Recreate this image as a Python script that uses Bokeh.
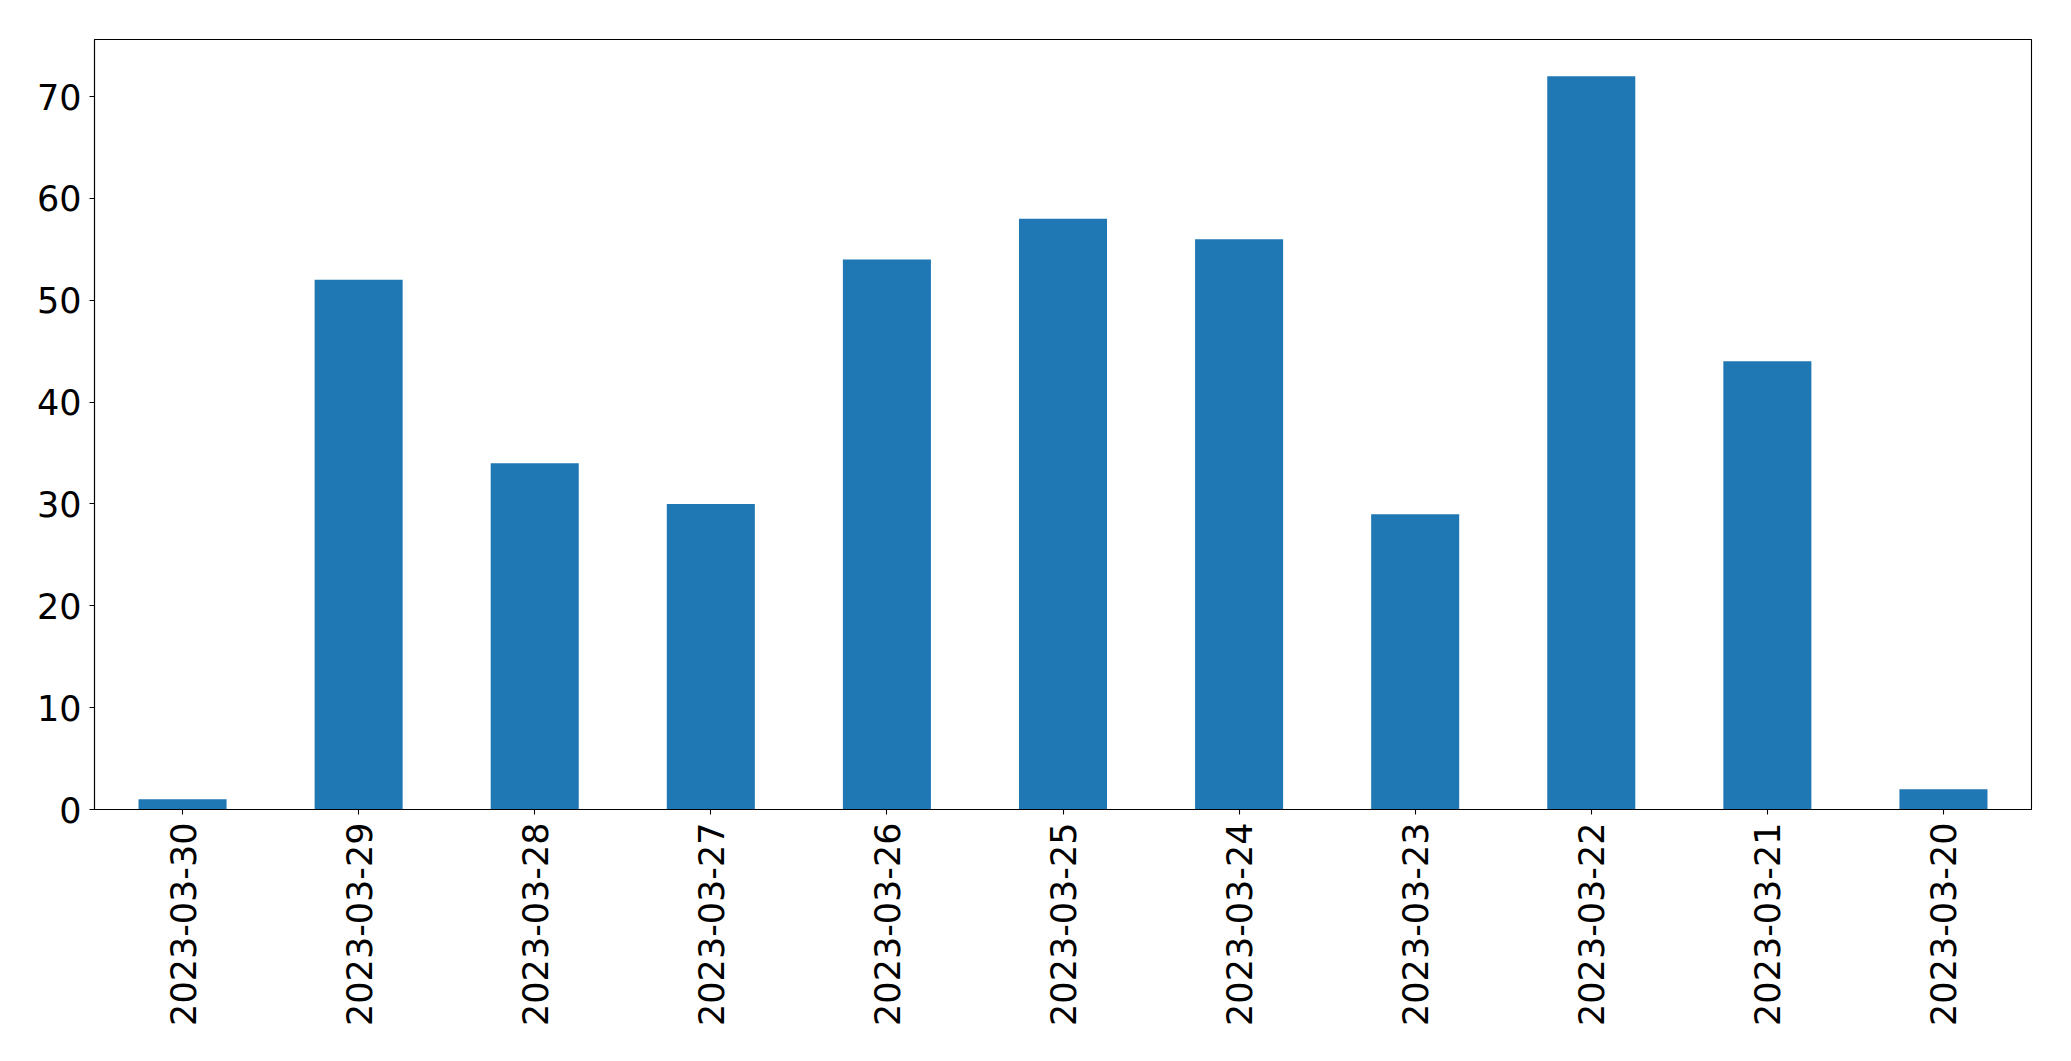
import math
from bokeh.plotting import figure
from bokeh.models import FixedTicker, Range1d, FactorRange
from bokeh.embed import file_html
from bokeh.resources import INLINE

dates = ["2023-03-30", "2023-03-29", "2023-03-28", "2023-03-27", "2023-03-26",
         "2023-03-25", "2023-03-24", "2023-03-23", "2023-03-22", "2023-03-21",
         "2023-03-20"]
counts = [1, 52, 34, 30, 54, 58, 56, 29, 72, 44, 2]
y_ticks = [0, 10, 20, 30, 40, 50, 60, 70]

p = figure(width=2071, height=1061, output_backend="svg", toolbar_location=None,
           x_range=FactorRange(factors=dates, range_padding=0),
           y_range=Range1d(0, max(counts) * 1.05))
p.min_border_left = 94
p.min_border_right = 40
p.min_border_top = 39
p.min_border_bottom = 252

p.vbar(x=dates, top=counts, width=0.5, color="#1f77b4", line_color=None)

p.outline_line_color = "black"
p.outline_line_width = 1.1
p.outline_line_alpha = 1
p.xgrid.grid_line_color = None
p.ygrid.grid_line_color = None

for ax in (p.xaxis[0], p.yaxis[0]):
    ax.axis_line_color = "black"
    ax.axis_line_width = 1.1
    ax.major_tick_line_color = "black"
    ax.major_tick_line_width = 1.1
    ax.major_tick_out = 5
    ax.major_tick_in = 0
    ax.minor_tick_line_color = None
    ax.major_label_text_font = "DejaVu Sans"
    ax.major_label_text_font_size = "35px"
    ax.major_label_text_color = "black"
    ax.major_label_standoff = 8

p.yaxis[0].ticker = FixedTicker(ticks=y_ticks)
p.xaxis[0].major_label_orientation = math.pi / 2

open("out.html", "w").write(file_html(p, INLINE))
